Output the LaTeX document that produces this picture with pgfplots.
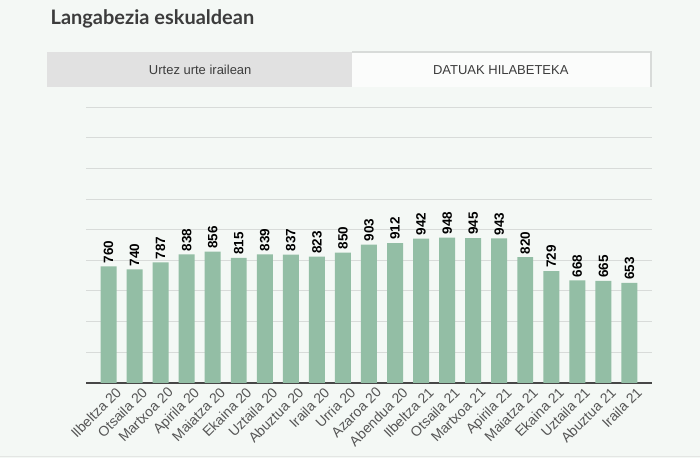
\documentclass[border=0pt]{standalone}
\usepackage{fontspec}
\setmainfont{Liberation Sans}
\newfontfamily\titlefont{Lato}
\usepackage{pgfplots}
\pgfplotsset{compat=1.18}

\definecolor{bgc}{HTML}{F4F8F5}
\definecolor{barc}{HTML}{93BEA5}
\definecolor{gridc}{HTML}{D8DBD9}
\definecolor{axisc}{HTML}{474747}
\definecolor{titlec}{HTML}{3C3C3C}
\definecolor{tabc}{HTML}{E1E1E1}
\definecolor{labc}{HTML}{555555}

\begin{document}
\begin{tikzpicture}[x=1pt,y=1pt]
% page background
\fill[bgc] (0,0) rectangle (700,-459);
\draw[gridc!70, line width=1pt] (0,-457) -- (700,-457);

% title
\node[anchor=base west, inner sep=0pt, text=titlec, font=\titlefont\fontsize{20}{24}\selectfont\bfseries]
  at (50,-25) {Langabezia eskualdean};

% tabs
\fill[tabc] (47,-52) rectangle (352,-87);
\fill[white!60!bgc] (352,-52) rectangle (651,-87);
\draw[gridc, line width=2pt] (352,-52) -- (651,-52) -- (651,-87);
\node[text=titlec, font=\fontsize{13}{15}\selectfont] at (200,-70) {Urtez urte irailean};
\node[text=titlec, font=\fontsize{13}{15}\selectfont] at (501,-70) {DATUAK HILABETEKA};

\begin{axis}[
    at={(86pt,-383.3pt)}, anchor=south west,
    scale only axis,
    width=566pt, height=276pt,
    xmin=-0.85, xmax=20.85,
    ymin=0, ymax=1800,
    axis x line*=bottom,
    axis y line*=left,
    x axis line style={draw=axisc, line width=2pt},
    y axis line style={draw=none},
    ytick={200,400,...,1800},
    yticklabels={},
    ymajorgrids=true,
    grid style={gridc, line width=0.9pt},
    major tick length=0pt,
    xtick=data,
    xticklabels={Ilbeltza 20,Otsaila 20,Martxoa 20,Apirila 20,Maiatza 20,Ekaina 20,Uztaila 20,Abuztua 20,Iraila 20,Urria 20,Azaroa 20,Abendua 20,Ilbeltza 21,Otsaila 21,Martxoa 21,Apirila 21,Maiatza 21,Ekaina 21,Uztaila 21,Abuztua 21,Iraila 21},
    xticklabel style={rotate=45, anchor=north east, text=labc,
        font=\fontsize{14}{16}\selectfont, inner sep=1pt, xshift=3pt, yshift=-6pt},
    /pgf/number format/assume math mode=true,
    ybar, bar width=16pt,
    nodes near coords,
    nodes near coords style={rotate=90, anchor=west, text=black,
        font=\fontsize{13.5}{16}\selectfont\bfseries, inner sep=3pt},
]
\addplot[fill=barc, draw=none] coordinates {
(0,760)(1,740)(2,787)(3,838)(4,856)(5,815)(6,839)(7,837)(8,823)(9,850)
(10,903)(11,912)(12,942)(13,948)(14,945)(15,943)(16,820)(17,729)(18,668)
(19,665)(20,653)
};
\end{axis}
\end{tikzpicture}
\end{document}
